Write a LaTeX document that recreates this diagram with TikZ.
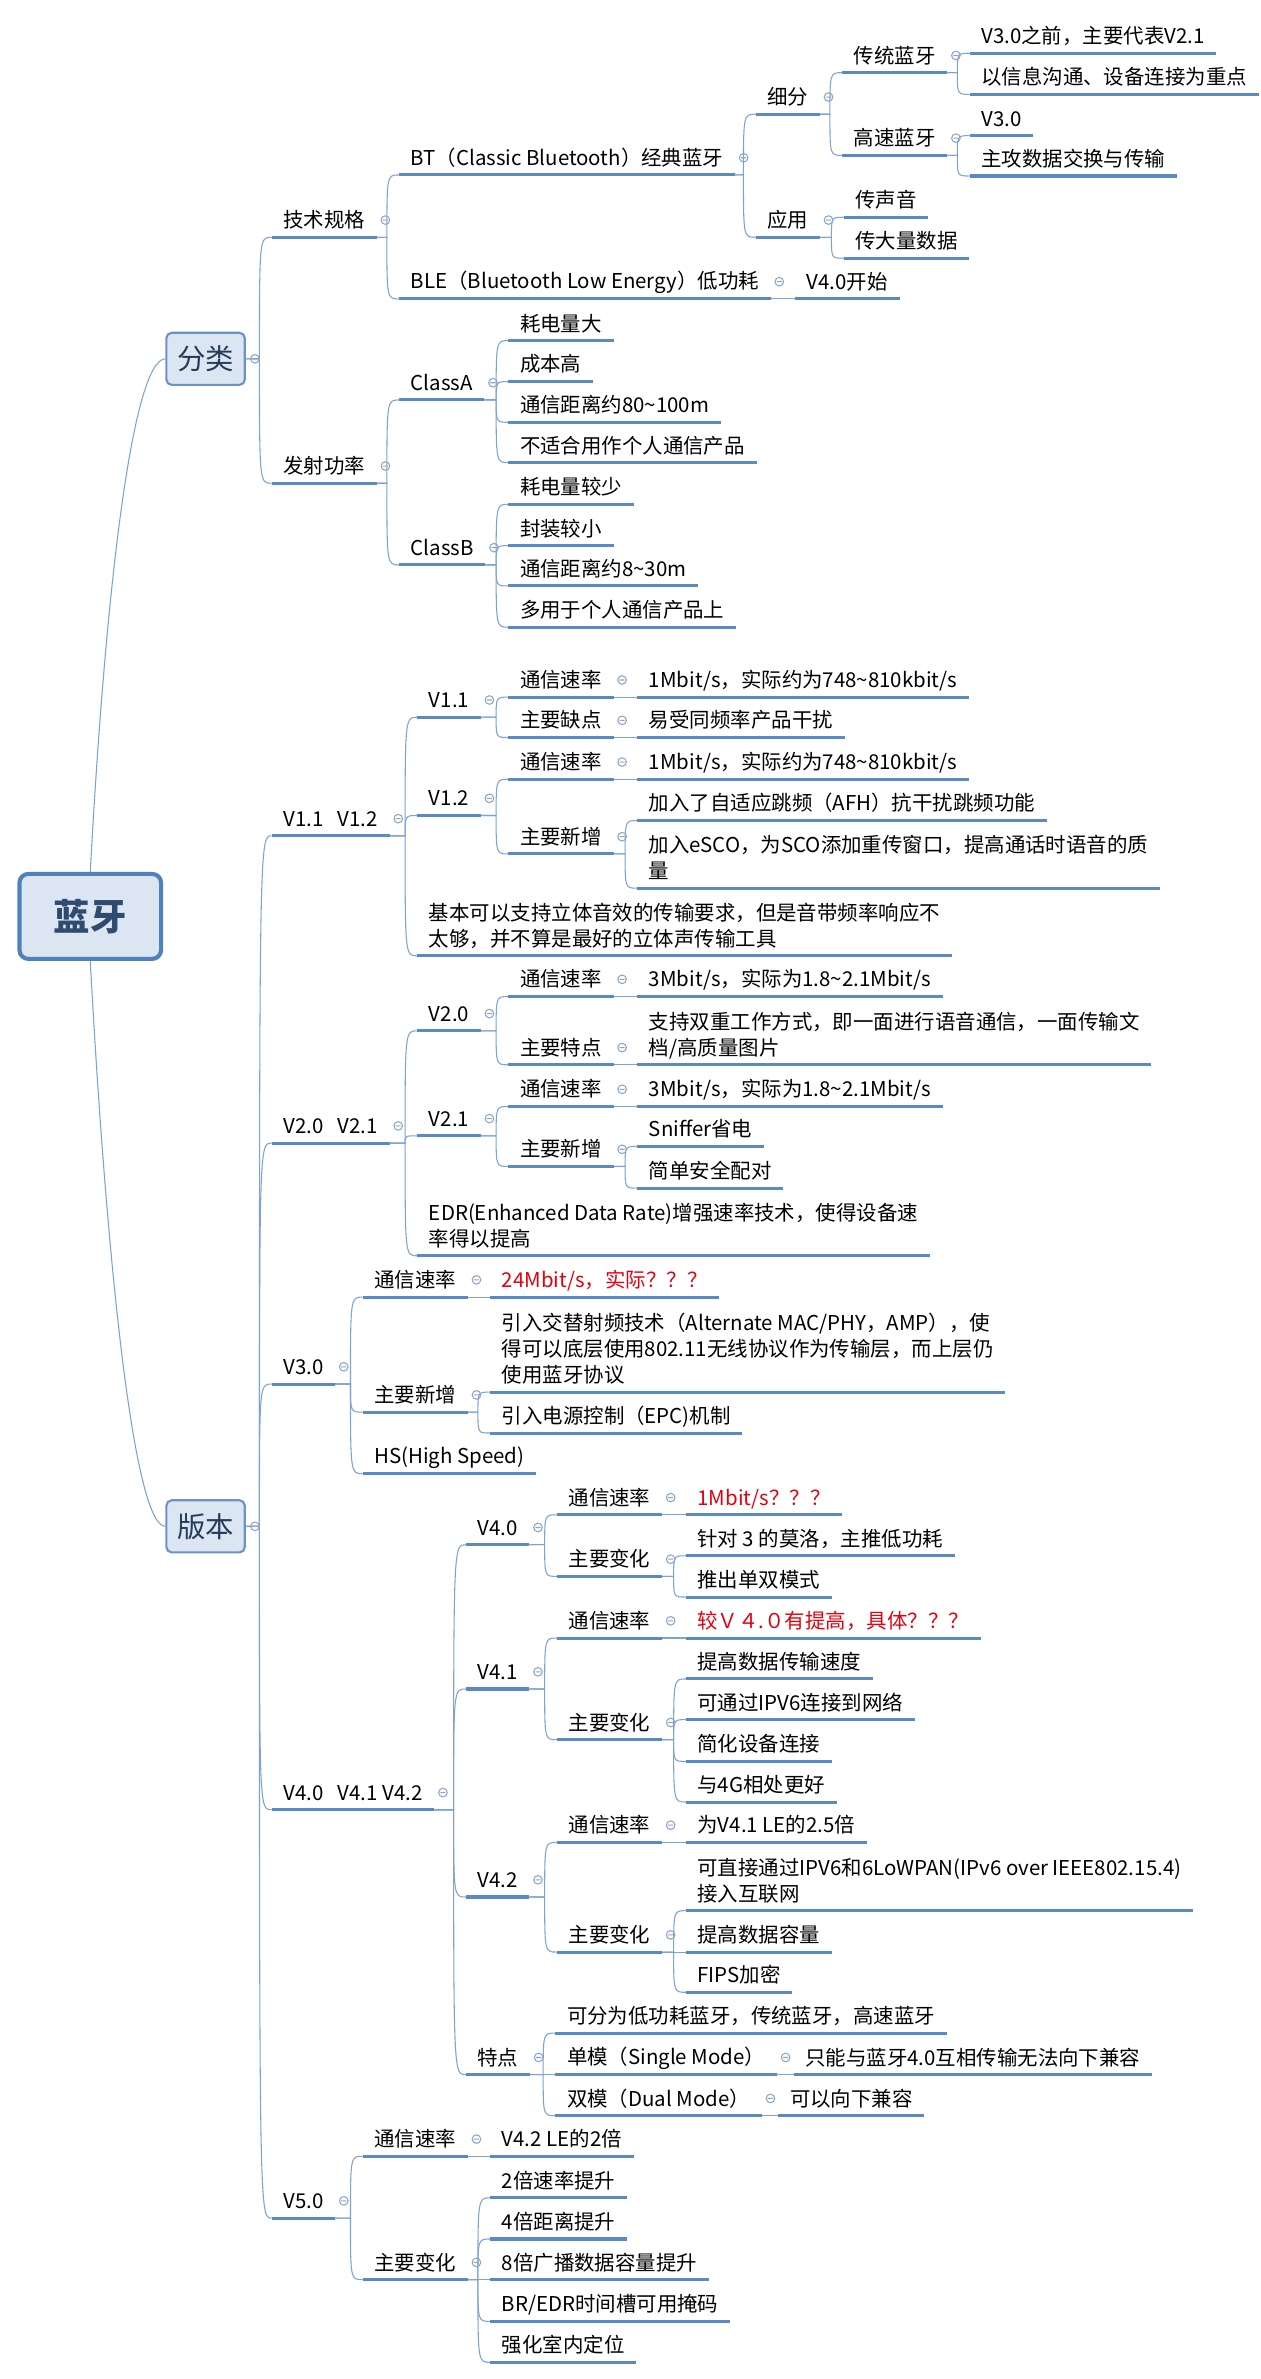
\documentclass[tikz,border=0pt]{standalone}
\usepackage{fontspec}
\newfontfamily\cjk{Noto Sans CJK SC}
\definecolor{lineblue}{HTML}{5A8AC6}
\definecolor{linkblue}{HTML}{7EA3D3}
\definecolor{boxfill}{HTML}{DCE6F2}
\definecolor{rootedge}{HTML}{4F81BD}
\definecolor{catedge}{HTML}{6B93C8}
\definecolor{foldgray}{HTML}{8EA6C6}
\definecolor{roottext}{HTML}{2F4B70}
\definecolor{warnred}{HTML}{E3000F}
\tikzset{
  topic/.style={anchor=south west, align=left, inner xsep=6.4pt, inner ysep=2.6pt,
    font=\cjk\fontsize{11.5}{14.5}\selectfont,
    execute at end node={\rule[-2.6pt]{0pt}{2.6pt}},
    append after command={(\tikzlastnode.south west) edge[uline] (\tikzlastnode.south east)}},
  uline/.style={draw=lineblue, line width=1.7pt},
  link/.style={draw=linkblue, line width=0.6pt},
  fold/.style={draw=foldgray, line width=0.6pt},
  rootbox/.style={draw=rootedge, line width=2.3pt, fill=boxfill, rounded corners=5pt,
    minimum width=2.8cm, minimum height=1.68cm, text=roottext,
    font=\cjk\bfseries\fontsize{20.5}{24}\selectfont},
  catbox/.style={draw=catedge, line width=1.2pt, fill=boxfill, rounded corners=3pt,
    minimum width=1.55cm, minimum height=1.03cm, text=roottext!80!black,
    font=\cjk\fontsize{16}{19}\selectfont},
}
\begin{document}
\begin{tikzpicture}[x=0.03cm, y=-0.03cm]
  \fill[white] (0,0) rectangle (831,1568);
  \useasboundingbox (0,0) rectangle (831,1568);
  % root and categories
  \node[rootbox] (root) at (59.5,604) {蓝牙};
  \node[catbox] (fenlei) at (135.5,236.5) {分类};
  \node[catbox] (banben) at (135.5,1006) {版本};
  % classification: spec
  \node[topic] (tech) at (179,156.4) {技术规格};
  \node[topic] (bt) at (263,115.3) {BT（Classic Bluetooth）经典蓝牙};
  \node[topic] (xifen) at (498,75.3) {细分};
  \node[topic] (chuantong) at (555,47.9) {传统蓝牙};
  \node[topic] (ctA) at (639,35.1) {V3.0之前，主要代表V2.1};
  \node[topic] (ctB) at (639,62.2) {以信息沟通、设备连接为重点};
  \node[topic] (gaosu) at (555,102.4) {高速蓝牙};
  \node[topic] (gsA) at (639,89.4) {V3.0};
  \node[topic] (gsB) at (639,116) {主攻数据交换与传输};
  \node[topic] (yingyong) at (498,156.4) {应用};
  \node[topic] (yyA) at (556,143.2) {传声音};
  \node[topic] (yyB) at (556,170.2) {传大量数据};
  \node[topic] (ble) at (263,197) {BLE（Bluetooth Low Energy）低功耗};
  \node[topic] (bleA) at (524,197) {V4.0开始};
  % classification: power
  \node[topic] (power) at (179,318.5) {发射功率};
  \node[topic] (classA) at (263,263.6) {ClassA};
  \node[topic] (caA) at (335,224.5) {耗电量大};
  \node[topic] (caB) at (335,251.5) {成本高};
  \node[topic] (caC) at (335,278.3) {通信距离约80\textasciitilde100m};
  \node[topic] (caD) at (335,304.9) {不适合用作个人通信产品};
  \node[topic] (classB) at (263,372.3) {ClassB};
  \node[topic] (cbA) at (335,332.4) {耗电量较少};
  \node[topic] (cbB) at (335,359.6) {封装较小};
  \node[topic] (cbC) at (335,386.2) {通信距离约8\textasciitilde30m};
  \node[topic] (cbD) at (335,413.4) {多用于个人通信产品上};
  % versions 1.x
  \node[topic] (v11) at (179,550.9) {V1.1\hspace{0.7em}V1.2};
  \node[topic] (v11a) at (275,472.7) {V1.1};
  \node[topic] (v11rate) at (335,459.5) {通信速率};
  \node[topic] (v11rateV) at (420,459.5) {1Mbit/s，实际约为748\textasciitilde810kbit/s};
  \node[topic] (v11bad) at (335,486.1) {主要缺点};
  \node[topic] (v11badV) at (420,486.1) {易受同频率产品干扰};
  \node[topic] (v12a) at (275,537.5) {V1.2};
  \node[topic] (v12rate) at (335,513.6) {通信速率};
  \node[topic] (v12rateV) at (420,513.6) {1Mbit/s，实际约为748\textasciitilde810kbit/s};
  \node[topic] (v12new) at (335,562.8) {主要新增};
  \node[topic] (v12newA) at (420,540.8) {加入了自适应跳频（AFH）抗干扰跳频功能};
  \node[topic] (v12newB) at (420,585.4) {加入eSCO，为SCO添加重传窗口，提高通话时语音的质\\量};
  \node[topic] (v11note) at (275,630) {基本可以支持立体音效的传输要求，但是音带频率响应不\\太够，并不算是最好的立体声传输工具};
  % versions 2.x
  \node[topic] (v20) at (179,753.4) {V2.0\hspace{0.7em}V2.1};
  \node[topic] (v20a) at (275,679.4) {V2.0};
  \node[topic] (v20rate) at (335,656.8) {通信速率};
  \node[topic] (v20rateV) at (420,656.8) {3Mbit/s，实际为1.8\textasciitilde2.1Mbit/s};
  \node[topic] (v20feat) at (335,701.8) {主要特点};
  \node[topic] (v20featV) at (420,701.8) {支持双重工作方式，即一面进行语音通信，一面传输文\\档/高质量图片};
  \node[topic] (v21a) at (275,748.6) {V2.1};
  \node[topic] (v21rate) at (335,729.3) {通信速率};
  \node[topic] (v21rateV) at (420,729.3) {3Mbit/s，实际为1.8\textasciitilde2.1Mbit/s};
  \node[topic] (v21new) at (335,768.8) {主要新增};
  \node[topic] (v21newA) at (420,755.6) {Sniffer省电};
  \node[topic] (v21newB) at (420,783.1) {简单安全配对};
  \node[topic] (v20note) at (275,827.7) {EDR(Enhanced Data Rate)增强速率技术，使得设备速\\率得以提高};
  % version 3.0
  \node[topic] (v30) at (179,912.2) {V3.0};
  \node[topic] (v30rate) at (239,854.9) {通信速率};
  \node[topic, text=warnred] (v30rateV) at (323,854.9) {24Mbit/s，实际？？？};
  \node[topic] (v30new) at (239,930.7) {主要新增};
  \node[topic] (v30newA) at (323,917.5) {引入交替射频技术（Alternate MAC/PHY，AMP），使\\得可以底层使用802.11无线协议作为传输层，而上层仍\\使用蓝牙协议};
  \node[topic] (v30newB) at (323,944.5) {引入电源控制（EPC)机制};
  \node[topic] (v30hs) at (239,971.3) {HS(High Speed)};
  % versions 4.x
  \node[topic] (v40) at (179,1192.8) {V4.0\hspace{0.7em}V4.1 V4.2};
  \node[topic] (v40a) at (307,1018.1) {V4.0};
  \node[topic] (v40rate) at (367,998.4) {通信速率};
  \node[topic, text=warnred] (v40rateV) at (452,998.4) {1Mbit/s？？？};
  \node[topic] (v40chg) at (367,1039) {主要变化};
  \node[topic] (v40chgA) at (452,1025.4) {针对 3 的莫洛，主推低功耗};
  \node[topic] (v40chgB) at (452,1052.6) {推出单双模式};
  \node[topic] (v41a) at (307,1113.2) {V4.1};
  \node[topic] (v41rate) at (367,1079.6) {通信速率};
  \node[topic, text=warnred] (v41rateV) at (452,1079.6) {较Ｖ４.０有提高，具体？？？};
  \node[topic] (v41chg) at (367,1146.6) {主要变化};
  \node[topic] (v41chgA) at (452,1106.6) {提高数据传输速度};
  \node[topic] (v41chgB) at (452,1133.4) {可通过IPV6连接到网络};
  \node[topic] (v41chgC) at (452,1160.9) {简化设备连接};
  \node[topic] (v41chgD) at (452,1187.7) {与4G相处更好};
  \node[topic] (v42a) at (307,1250.3) {V4.2};
  \node[topic] (v42rate) at (367,1214.3) {通信速率};
  \node[topic] (v42rateV) at (452,1214.3) {为V4.1 LE的2.5倍};
  \node[topic] (v42chg) at (367,1286.6) {主要变化};
  \node[topic] (v42chgA) at (452,1259.3) {可直接通过IPV6和6LoWPAN(IPv6 over IEEE802.15.4)\\接入互联网};
  \node[topic] (v42chgB) at (452,1286.6) {提高数据容量};
  \node[topic] (v42chgC) at (452,1313.1) {FIPS加密};
  \node[topic] (v4feat) at (307,1367.4) {特点};
  \node[topic] (v4featA) at (366,1340) {可分为低功耗蓝牙，传统蓝牙，高速蓝牙};
  \node[topic] (single) at (366,1367.4) {单模（Single Mode）};
  \node[topic] (singleV) at (523,1367.4) {只能与蓝牙4.0互相传输无法向下兼容};
  \node[topic] (dual) at (366,1394.4) {双模（Dual Mode）};
  \node[topic] (dualV) at (513,1394.4) {可以向下兼容};
  % version 5.0
  \node[topic] (v50) at (179,1461.9) {V5.0};
  \node[topic] (v50rate) at (239,1421.2) {通信速率};
  \node[topic] (v50rateV) at (323,1421.2) {V4.2 LE的2倍};
  \node[topic] (v50chg) at (239,1502.5) {主要变化};
  \node[topic] (v50chgA) at (323,1448.6) {2倍速率提升};
  \node[topic] (v50chgB) at (323,1475.7) {4倍距离提升};
  \node[topic] (v50chgC) at (323,1502.5) {8倍广播数据容量提升};
  \node[topic] (v50chgD) at (323,1530) {BR/EDR时间槽可用掩码};
  \node[topic] (v50chgE) at (323,1557) {强化室内定位};
  % root links
  \draw[link] (root.north) .. controls (70,380) and (88,237) .. (fenlei.west);
  \draw[link] (root.south) .. controls (70,828) and (88,1006) .. (banben.west);
  % category links
  \foreach \p/\kids in {fenlei/{tech,power}, banben/{v11,v20,v30,v40,v50}}
    \foreach \c in \kids
      \draw[link] (\p.east) -- ([xshift=-2.4mm]\c.south west |- \p.east)
        .. controls ([xshift=-2.4mm]\c.south west) .. (\c.south west);
  % topic links
  \foreach \p/\kids in {tech/{bt,ble}, bt/{xifen,yingyong}, xifen/{chuantong,gaosu},
      chuantong/{ctA,ctB}, gaosu/{gsA,gsB}, yingyong/{yyA,yyB}, ble/{bleA},
      power/{classA,classB}, classA/{caA,caB,caC,caD}, classB/{cbA,cbB,cbC,cbD},
      v11/{v11a,v12a,v11note}, v11a/{v11rate,v11bad}, v11rate/{v11rateV}, v11bad/{v11badV},
      v12a/{v12rate,v12new}, v12rate/{v12rateV}, v12new/{v12newA,v12newB},
      v20/{v20a,v21a,v20note}, v20a/{v20rate,v20feat}, v20rate/{v20rateV}, v20feat/{v20featV},
      v21a/{v21rate,v21new}, v21rate/{v21rateV}, v21new/{v21newA,v21newB},
      v30/{v30rate,v30new,v30hs}, v30rate/{v30rateV}, v30new/{v30newA,v30newB},
      v40/{v40a,v41a,v42a,v4feat}, v40a/{v40rate,v40chg}, v40rate/{v40rateV}, v40chg/{v40chgA,v40chgB},
      v41a/{v41rate,v41chg}, v41rate/{v41rateV}, v41chg/{v41chgA,v41chgB,v41chgC,v41chgD},
      v42a/{v42rate,v42chg}, v42rate/{v42rateV}, v42chg/{v42chgA,v42chgB,v42chgC},
      v4feat/{v4featA,single,dual}, single/{singleV}, dual/{dualV},
      v50/{v50rate,v50chg}, v50rate/{v50rateV}, v50chg/{v50chgA,v50chgB,v50chgC,v50chgD,v50chgE}}
    \foreach \c in \kids
      \draw[link] (\p.south east) -- ([xshift=-2.4mm]\c.south west |- \p.south east)
        .. controls ([xshift=-2.4mm]\c.south west) .. (\c.south west);
  % fold markers
  \foreach \p in {fenlei,banben}
    \draw[fold] ([xshift=1.8mm]\p.east) circle (0.85mm) ++(-0.5mm,0) -- ++(1mm,0);
  \foreach \p in {tech,bt,xifen,chuantong,gaosu,yingyong,ble,power,classA,classB,
      v11,v11a,v11rate,v11bad,v12a,v12rate,v12new,v20,v20a,v20rate,v20feat,v21a,v21rate,v21new,
      v30,v30rate,v30new,v40,v40a,v40rate,v40chg,v41a,v41rate,v41chg,v42a,v42rate,v42chg,
      v4feat,single,dual,v50,v50rate,v50chg}
    \draw[fold] ([xshift=1.7mm,yshift=3.4mm]\p.south east) circle (0.85mm) ++(-0.5mm,0) -- ++(1mm,0);
\end{tikzpicture}
\end{document}
